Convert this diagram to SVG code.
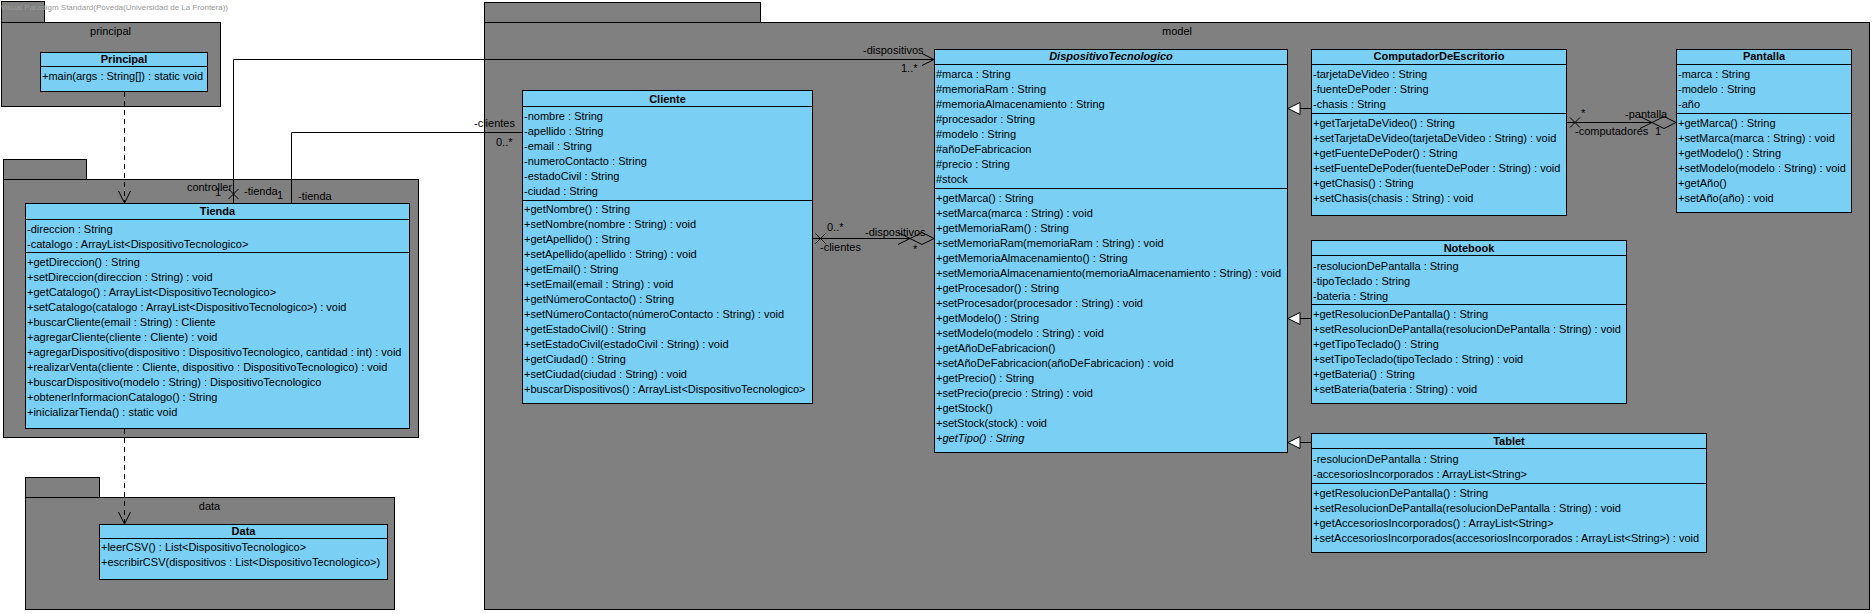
<svg xmlns="http://www.w3.org/2000/svg" width="1872" height="614" viewBox="0 0 1872 614">
<style>
.pkg{fill:#808080;stroke:#000;stroke-width:1}
.cls{fill:#7ACFF5;stroke:#000;stroke-width:1}
.sep{stroke:#000;stroke-width:1}
text{font-family:"Liberation Sans",Arial,sans-serif;font-size:11px;fill:#000}
.b{font-weight:bold}
.i{font-style:italic}
.c{text-anchor:middle}
.e{text-anchor:end}
.ln{stroke:#000;stroke-width:1;fill:none}
.dash{stroke:#000;stroke-width:1;fill:none;stroke-dasharray:5,4}
.wm{font-size:8px;fill:#9a9a9a}
</style>
<rect x="0" y="0" width="1872" height="614" fill="#fff"/>

<!-- packages -->
<g id="pkg-principal">
<rect class="pkg" x="1.5" y="1.5" width="43" height="21"/>
<rect class="pkg" x="1.5" y="22.5" width="219" height="84"/>
<text class="c" x="110.5" y="35">principal</text>
</g>
<g id="pkg-controller">
<rect class="pkg" x="3.5" y="159.5" width="83" height="20"/>
<rect class="pkg" x="3.5" y="179.5" width="415" height="258"/>
<text class="c" x="209.5" y="191">controller</text>
</g>
<g id="pkg-data">
<rect class="pkg" x="25.5" y="477.5" width="74" height="20"/>
<rect class="pkg" x="25.5" y="497.5" width="369" height="112"/>
<text class="c" x="209.5" y="510">data</text>
</g>
<g id="pkg-model">
<rect class="pkg" x="484.5" y="2.5" width="276" height="20"/>
<rect class="pkg" x="484.5" y="22.5" width="1385" height="587"/>
<text class="c" x="1177" y="35">model</text>
</g>

<text class="wm e" x="228" y="10">Visual Paradigm Standard(Poveda(Universidad de La Frontera))</text>

<!-- classes -->
<g id="Principal">
<rect class="cls" x="40.5" y="52.5" width="167" height="39"/>
<line class="sep" x1="40.5" y1="66.5" x2="207.5" y2="66.5"/>
<text class="b c" x="124" y="63">Principal</text>
<text x="42" y="80">+main(args : String[]) : static void</text>
</g>

<g id="Tienda">
<rect class="cls" x="25.5" y="203.5" width="384" height="225"/>
<line class="sep" x1="25.5" y1="219.5" x2="409.5" y2="219.5"/>
<line class="sep" x1="25.5" y1="252.5" x2="409.5" y2="252.5"/>
<text class="b c" x="217.5" y="215">Tienda</text>
<text x="27" y="233">-direccion : String</text>
<text x="27" y="248">-catalogo : ArrayList&lt;DispositivoTecnologico&gt;</text>
<text x="27" y="266">+getDireccion() : String</text>
<text x="27" y="281">+setDireccion(direccion : String) : void</text>
<text x="27" y="296">+getCatalogo() : ArrayList&lt;DispositivoTecnologico&gt;</text>
<text x="27" y="311">+setCatalogo(catalogo : ArrayList&lt;DispositivoTecnologico&gt;) : void</text>
<text x="27" y="326">+buscarCliente(email : String) : Cliente</text>
<text x="27" y="341">+agregarCliente(cliente : Cliente) : void</text>
<text x="27" y="356">+agregarDispositivo(dispositivo : DispositivoTecnologico, cantidad : int) : void</text>
<text x="27" y="371">+realizarVenta(cliente : Cliente, dispositivo : DispositivoTecnologico) : void</text>
<text x="27" y="386">+buscarDispositivo(modelo : String) : DispositivoTecnologico</text>
<text x="27" y="401">+obtenerInformacionCatalogo() : String</text>
<text x="27" y="416">+inicializarTienda() : static void</text>
</g>

<g id="Data">
<rect class="cls" x="99.5" y="524.5" width="288" height="55"/>
<line class="sep" x1="99.5" y1="538.5" x2="387.5" y2="538.5"/>
<text class="b c" x="243.5" y="535">Data</text>
<text x="101" y="551">+leerCSV() : List&lt;DispositivoTecnologico&gt;</text>
<text x="101" y="566">+escribirCSV(dispositivos : List&lt;DispositivoTecnologico&gt;)</text>
</g>

<g id="Cliente">
<rect class="cls" x="522.5" y="90.5" width="290" height="313"/>
<line class="sep" x1="522.5" y1="106.5" x2="812.5" y2="106.5"/>
<line class="sep" x1="522.5" y1="200.5" x2="812.5" y2="200.5"/>
<text class="b c" x="667.5" y="102.5">Cliente</text>
<text x="524" y="120">-nombre : String</text>
<text x="524" y="135">-apellido : String</text>
<text x="524" y="150">-email : String</text>
<text x="524" y="165">-numeroContacto : String</text>
<text x="524" y="180">-estadoCivil : String</text>
<text x="524" y="195">-ciudad : String</text>
<text x="524" y="213">+getNombre() : String</text>
<text x="524" y="228">+setNombre(nombre : String) : void</text>
<text x="524" y="243">+getApellido() : String</text>
<text x="524" y="258">+setApellido(apellido : String) : void</text>
<text x="524" y="273">+getEmail() : String</text>
<text x="524" y="288">+setEmail(email : String) : void</text>
<text x="524" y="303">+getNúmeroContacto() : String</text>
<text x="524" y="318">+setNúmeroContacto(númeroContacto : String) : void</text>
<text x="524" y="333">+getEstadoCivil() : String</text>
<text x="524" y="348">+setEstadoCivil(estadoCivil : String) : void</text>
<text x="524" y="363">+getCiudad() : String</text>
<text x="524" y="378">+setCiudad(ciudad : String) : void</text>
<text x="524" y="393">+buscarDispositivos() : ArrayList&lt;DispositivoTecnologico&gt;</text>
</g>

<g id="DispositivoTecnologico">
<rect class="cls" x="934.5" y="49.5" width="353" height="403"/>
<line class="sep" x1="934.5" y1="64.5" x2="1287.5" y2="64.5"/>
<line class="sep" x1="934.5" y1="188.5" x2="1287.5" y2="188.5"/>
<text class="b i c" x="1111" y="60">DispositivoTecnologico</text>
<text x="936" y="78">#marca : String</text>
<text x="936" y="93">#memoriaRam : String</text>
<text x="936" y="108">#memoriaAlmacenamiento : String</text>
<text x="936" y="123">#procesador : String</text>
<text x="936" y="138">#modelo : String</text>
<text x="936" y="153">#añoDeFabricacion</text>
<text x="936" y="168">#precio : String</text>
<text x="936" y="183">#stock</text>
<text x="936" y="202">+getMarca() : String</text>
<text x="936" y="217">+setMarca(marca : String) : void</text>
<text x="936" y="232">+getMemoriaRam() : String</text>
<text x="936" y="247">+setMemoriaRam(memoriaRam : String) : void</text>
<text x="936" y="262">+getMemoriaAlmacenamiento() : String</text>
<text x="936" y="277">+setMemoriaAlmacenamiento(memoriaAlmacenamiento : String) : void</text>
<text x="936" y="292">+getProcesador() : String</text>
<text x="936" y="307">+setProcesador(procesador : String) : void</text>
<text x="936" y="322">+getModelo() : String</text>
<text x="936" y="337">+setModelo(modelo : String) : void</text>
<text x="936" y="352">+getAñoDeFabricacion()</text>
<text x="936" y="367">+setAñoDeFabricacion(añoDeFabricacion) : void</text>
<text x="936" y="382">+getPrecio() : String</text>
<text x="936" y="397">+setPrecio(precio : String) : void</text>
<text x="936" y="412">+getStock()</text>
<text x="936" y="427">+setStock(stock) : void</text>
<text class="i" x="936" y="442">+getTipo() : String</text>
</g>

<g id="ComputadorDeEscritorio">
<rect class="cls" x="1311.5" y="49.5" width="255" height="166"/>
<line class="sep" x1="1311.5" y1="64.5" x2="1566.5" y2="64.5"/>
<line class="sep" x1="1311.5" y1="113.5" x2="1566.5" y2="113.5"/>
<text class="b c" x="1439" y="60">ComputadorDeEscritorio</text>
<text x="1313" y="78">-tarjetaDeVideo : String</text>
<text x="1313" y="93">-fuenteDePoder : String</text>
<text x="1313" y="108">-chasis : String</text>
<text x="1313" y="127">+getTarjetaDeVideo() : String</text>
<text x="1313" y="142">+setTarjetaDeVideo(tarjetaDeVideo : String) : void</text>
<text x="1313" y="157">+getFuenteDePoder() : String</text>
<text x="1313" y="172">+setFuenteDePoder(fuenteDePoder : String) : void</text>
<text x="1313" y="187">+getChasis() : String</text>
<text x="1313" y="202">+setChasis(chasis : String) : void</text>
</g>

<g id="Pantalla">
<rect class="cls" x="1676.5" y="49.5" width="175" height="163"/>
<line class="sep" x1="1676.5" y1="64.5" x2="1851.5" y2="64.5"/>
<line class="sep" x1="1676.5" y1="113.5" x2="1851.5" y2="113.5"/>
<text class="b c" x="1764" y="60">Pantalla</text>
<text x="1678" y="78">-marca : String</text>
<text x="1678" y="93">-modelo : String</text>
<text x="1678" y="108">-año</text>
<text x="1678" y="127">+getMarca() : String</text>
<text x="1678" y="142">+setMarca(marca : String) : void</text>
<text x="1678" y="157">+getModelo() : String</text>
<text x="1678" y="172">+setModelo(modelo : String) : void</text>
<text x="1678" y="187">+getAño()</text>
<text x="1678" y="202">+setAño(año) : void</text>
</g>

<g id="Notebook">
<rect class="cls" x="1311.5" y="240.5" width="315" height="163"/>
<line class="sep" x1="1311.5" y1="255.5" x2="1626.5" y2="255.5"/>
<line class="sep" x1="1311.5" y1="304.5" x2="1626.5" y2="304.5"/>
<text class="b c" x="1469" y="251.5">Notebook</text>
<text x="1313" y="270">-resolucionDePantalla : String</text>
<text x="1313" y="285">-tipoTeclado : String</text>
<text x="1313" y="300">-bateria : String</text>
<text x="1313" y="318">+getResolucionDePantalla() : String</text>
<text x="1313" y="333">+setResolucionDePantalla(resolucionDePantalla : String) : void</text>
<text x="1313" y="348">+getTipoTeclado() : String</text>
<text x="1313" y="363">+setTipoTeclado(tipoTeclado : String) : void</text>
<text x="1313" y="378">+getBateria() : String</text>
<text x="1313" y="393">+setBateria(bateria : String) : void</text>
</g>

<g id="Tablet">
<rect class="cls" x="1311.5" y="433.5" width="395" height="119"/>
<line class="sep" x1="1311.5" y1="448.5" x2="1706.5" y2="448.5"/>
<line class="sep" x1="1311.5" y1="483.5" x2="1706.5" y2="483.5"/>
<text class="b c" x="1509" y="445">Tablet</text>
<text x="1313" y="463">-resolucionDePantalla : String</text>
<text x="1313" y="478">-accesoriosIncorporados : ArrayList&lt;String&gt;</text>
<text x="1313" y="497">+getResolucionDePantalla() : String</text>
<text x="1313" y="512">+setResolucionDePantalla(resolucionDePantalla : String) : void</text>
<text x="1313" y="527">+getAccesoriosIncorporados() : ArrayList&lt;String&gt;</text>
<text x="1313" y="542">+setAccesoriosIncorporados(accesoriosIncorporados : ArrayList&lt;String&gt;) : void</text>
</g>

<!-- connectors -->
<g id="connectors">
<!-- dependencies -->
<line class="dash" x1="124.5" y1="92" x2="124.5" y2="202"/>
<polyline class="ln" points="118.5,191 124.5,203 130.5,191"/>
<line class="dash" x1="124.5" y1="429" x2="124.5" y2="523"/>
<polyline class="ln" points="118.5,512 124.5,524 130.5,512"/>

<!-- Tienda -dispositivos -> DispositivoTecnologico -->
<polyline class="ln" points="233.5,203 233.5,59.5 934,59.5"/>
<polyline class="ln" points="922,53.5 934,59.5 922,65.5"/>
<line class="ln" x1="228.5" y1="189" x2="238.5" y2="199"/>
<line class="ln" x1="238.5" y1="189" x2="228.5" y2="199"/>
<text x="244" y="195">-tienda</text>
<text x="215" y="196">1</text>
<text x="863" y="54">-dispositivos</text>
<text x="901" y="72">1..*</text>

<!-- Tienda -clientes -> Cliente -->
<polyline class="ln" points="291.5,203 291.5,132.5 522,132.5"/>
<text x="298" y="200">-tienda</text>
<text x="277" y="199">1</text>
<text x="474" y="127">-clientes</text>
<text x="496" y="146">0..*</text>

<!-- Cliente - DispositivoTecnologico aggregation -->
<line class="ln" x1="812.5" y1="238.5" x2="910" y2="238.5"/>
<line class="ln" x1="815.5" y1="233.5" x2="825.5" y2="243.5"/>
<line class="ln" x1="825.5" y1="233.5" x2="815.5" y2="243.5"/>
<polyline class="ln" points="898,232.5 910,238.5 898,244.5"/>
<polygon class="ln" points="910,238.5 922,232.5 934,238.5 922,244.5"/>
<text x="827" y="231">0..*</text>
<text x="820" y="251">-clientes</text>
<text x="865" y="236">-dispositivos</text>
<text x="913" y="253">*</text>

<!-- ComputadorDeEscritorio - Pantalla aggregation -->
<line class="ln" x1="1566.5" y1="122.5" x2="1652" y2="122.5"/>
<line class="ln" x1="1570" y1="117.5" x2="1580" y2="127.5"/>
<line class="ln" x1="1580" y1="117.5" x2="1570" y2="127.5"/>
<polyline class="ln" points="1640,116.5 1652,122.5 1640,128.5"/>
<polygon class="ln" points="1652,122.5 1664,116.5 1676,122.5 1664,128.5"/>
<text x="1581" y="117">*</text>
<text x="1625" y="118">-pantalla</text>
<text x="1575" y="135">-computadores</text>
<text x="1655" y="135">1</text>

<!-- generalizations -->
<line class="ln" x1="1300" y1="108.5" x2="1311" y2="108.5"/>
<polygon class="ln" style="fill:#fff" points="1288,108.5 1300,102.5 1300,114.5"/>
<line class="ln" x1="1300" y1="318.5" x2="1311" y2="318.5"/>
<polygon class="ln" style="fill:#fff" points="1288,318.5 1300,312.5 1300,324.5"/>
<line class="ln" x1="1300" y1="442.5" x2="1311" y2="442.5"/>
<polygon class="ln" style="fill:#fff" points="1288,442.5 1300,436.5 1300,448.5"/>
</g>
</svg>
